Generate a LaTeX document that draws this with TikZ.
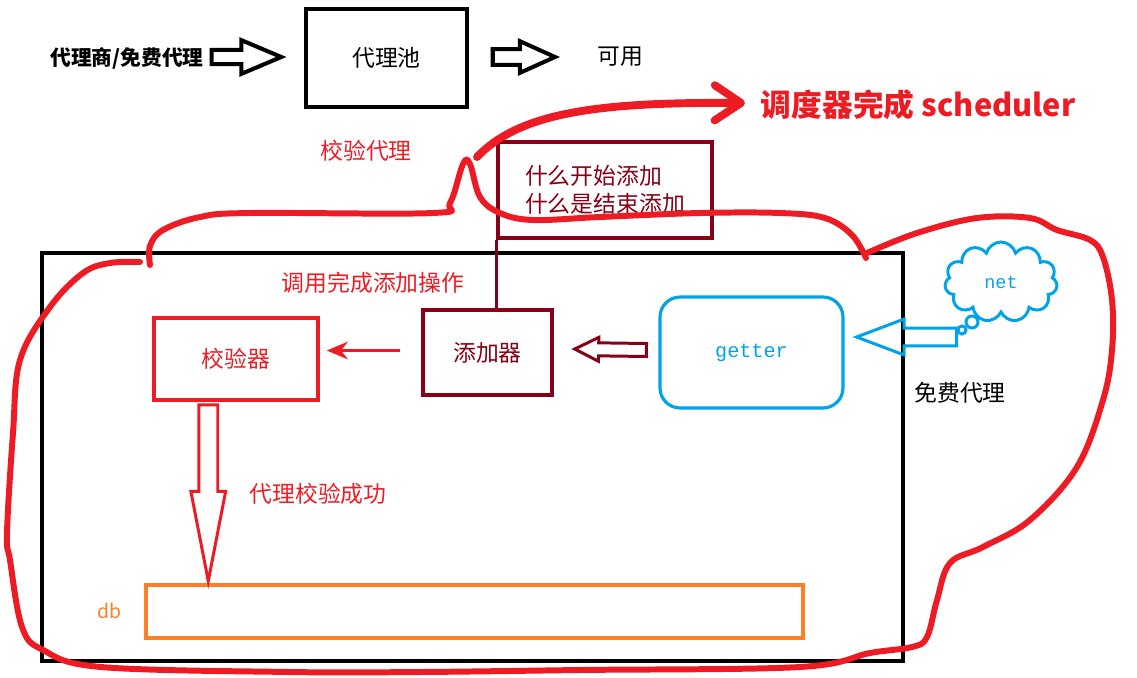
\documentclass[tikz,border=0pt]{standalone}
\usepackage{fontspec}
\setmainfont{Noto Sans CJK SC}
\setmonofont{Liberation Mono}
\usetikzlibrary{calc}
\usetikzlibrary{arrows.meta}
\usetikzlibrary{shapes.symbols}

\definecolor{paintred}{HTML}{ED1C24}
\definecolor{paintmaroon}{HTML}{880015}
\definecolor{paintblue}{HTML}{00A2E8}
\definecolor{paintorange}{HTML}{FF7F27}

\tikzset{
  label txt/.style={font=\fontsize{13}{16}\selectfont, inner sep=1pt},
  box/.style={draw, line width=2pt, inner sep=0pt},
  pen/.style={draw=paintred, line width=3.4pt, line cap=round, line join=round},
}

% hollow block arrow: style, tail, tip, half shaft, half head, head length
\newcommand{\fatarrow}[6]{%
  \coordinate (fathead) at ($(#3)!#6!(#2)$);
  \draw[#1] ($(#2)!#4!90:(#3)$) -- ($(fathead)!#4!90:(#3)$)
    -- ($(fathead)!#5!90:(#3)$) -- (#3)
    -- ($(fathead)!#5!-90:(#3)$) -- ($(fathead)!#4!-90:(#3)$)
    -- ($(#2)!#4!-90:(#3)$) -- cycle;
}

\begin{document}
\begin{tikzpicture}[x=0.02cm, y=-0.02cm]
  \useasboundingbox (0,0) rectangle (1137,677);

  % top row
  \node[label txt, font=\bfseries\fontsize{11.8}{14}\selectfont] (src) at (127,58) {代理商/免费代理};
  \node[box, label txt, minimum width=3.22cm, minimum height=1.96cm] (pool) at (386.5,58) {代理池};
  \node[label txt] (usable) at (620,57) {可用};
  \coordinate (src out) at ($(src.east)+(6,-1)$);
  \coordinate (pool in) at ($(pool.west)+(-23,-1)$);
  \fatarrow{line width=2.3pt}{src out}{pool in}{4pt}{9.6pt}{22.7pt}
  \coordinate (pool out) at ($(pool.east)+(24,-1)$);
  \coordinate (usable in) at ($(usable.west)+(-40,0)$);
  \fatarrow{line width=2.3pt}{pool out}{usable in}{4.5pt}{9pt}{20pt}

  \node[label txt, text=paintred] (check note) at (366,151) {校验代理};
  \node[anchor=west, inner sep=2pt, text=paintred, font=\bfseries\fontsize{17.5}{20}\selectfont] (sched) at (757,105) {调度器完成 scheduler};

  % question box
  \node[box, draw=paintmaroon, text=paintmaroon, label txt, align=left,
    minimum width=4.28cm, minimum height=1.92cm] (ask) at (605,190) {什么开始添加\\什么是结束添加};

  % outer frame
  \draw[line width=2.3pt] (42,253) rectangle (903,661);
  \node[label txt, text=paintred] (call note) at (373,283) {调用完成添加操作};

  \node[box, draw=paintmaroon, text=paintmaroon, label txt,
    minimum width=2.58cm, minimum height=1.7cm] (adder) at (487.5,352.5) {添加器};
  \node[box, draw=paintred, text=paintred, label txt,
    minimum width=3.28cm, minimum height=1.64cm] (checker) at (236,359) {校验器};
  \node[box, draw=paintblue, text=paintblue, line width=1.8pt, rounded corners=0.4cm,
    font=\ttfamily\fontsize{11.5}{13}\selectfont,
    minimum width=3.66cm, minimum height=2.22cm] (getter) at (751.5,352.5) {getter};
  \node[box, draw=paintorange, line width=2.3pt,
    minimum width=13.14cm, minimum height=1.06cm] (db) at (474.5,611.5) {};
  \node[inner sep=1pt, text=paintorange, font=\fontsize{11}{13}\selectfont] (db name) at (109,611) {db};

  \node[cloud, cloud puffs=11, aspect=1.45, draw=paintblue, line width=1.7pt, text=paintblue,
    font=\ttfamily\fontsize{10.5}{12}\selectfont,
    minimum width=2.25cm, minimum height=1.6cm] (net) at (1001,282) {net};
  \draw[paintblue, line width=1.7pt] (972,322) circle (6);
  \draw[paintblue, line width=1.7pt] (962,330) circle (4);
  \node[label txt] (free note) at (960,393) {免费代理};
  \node[label txt, text=paintred] (ok note) at (318,494) {代理校验成功};

  % connectors
  \draw[paintmaroon, line width=2pt] (ask.south west) -- (ask.south west |- adder.north);
  \coordinate (net out) at ($(getter.east)+(112,-15.5)$);
  \coordinate (getter in) at ($(getter.east)+(12,-15.5)$);
  \fatarrow{paintblue, line width=1.7pt}{net out}{getter in}{5.1pt}{10.2pt}{27pt}
  \coordinate (getter out) at ($(getter.west)+(-12,-2.5)$);
  \coordinate (adder in) at ($(adder.east)+(21,-3.5)$);
  \fatarrow{paintmaroon, line width=1.7pt}{getter out}{adder in}{3.7pt}{6.8pt}{13.6pt}
  \draw[paintred, line width=1.8pt, -{Stealth[length=12pt, width=10pt]}]
    ($(adder.west)+(-21,-2)$) -- ($(checker.east |- adder.west)+(7,-2)$);
  \coordinate (checker out) at ($(checker.south west)+(56,3)$);
  \coordinate (db in) at ($(checker.south west |- db.north)+(56,-2)$);
  \fatarrow{paintred, line width=1.7pt}{checker out}{db in}{5.4pt}{9.9pt}{51pt}

  % hand drawn loop
  \draw[pen] plot[smooth, tension=0.6] coordinates {(150,265) (150,246) (163,230) (200,217)
    (250,213) (433,213) (450,203) (463,164) (470,164) (480,197) (500,213) (533,220) (600,217)
    (700,213) (780,213) (825,218) (852,235) (866,258)};
  \draw[pen] plot[smooth, tension=0.6] coordinates {(867,253) (917,233) (977,218) (1030,218)
    (1057,230) (1090,240) (1103,257) (1112,300) (1112,350) (1103,400) (1077,467) (1030,520)
    (983,547) (950,563) (937,600) (927,637) (912,647) (870,653) (800,667) (580,670) (420,672)
    (290,672) (101,667) (43,650) (22,627) (10,560) (7,533) (13,433) (20,360) (50,307) (83,273)
    (110,263) (140,262)};
  \draw[pen, line width=4.5pt, -{Straight Barb[length=15pt, width=20pt, round]}]
    (477,157) .. controls (520,112) and (600,102) .. ($(sched.west)+(-12,-2)$);
\end{tikzpicture}
\end{document}
